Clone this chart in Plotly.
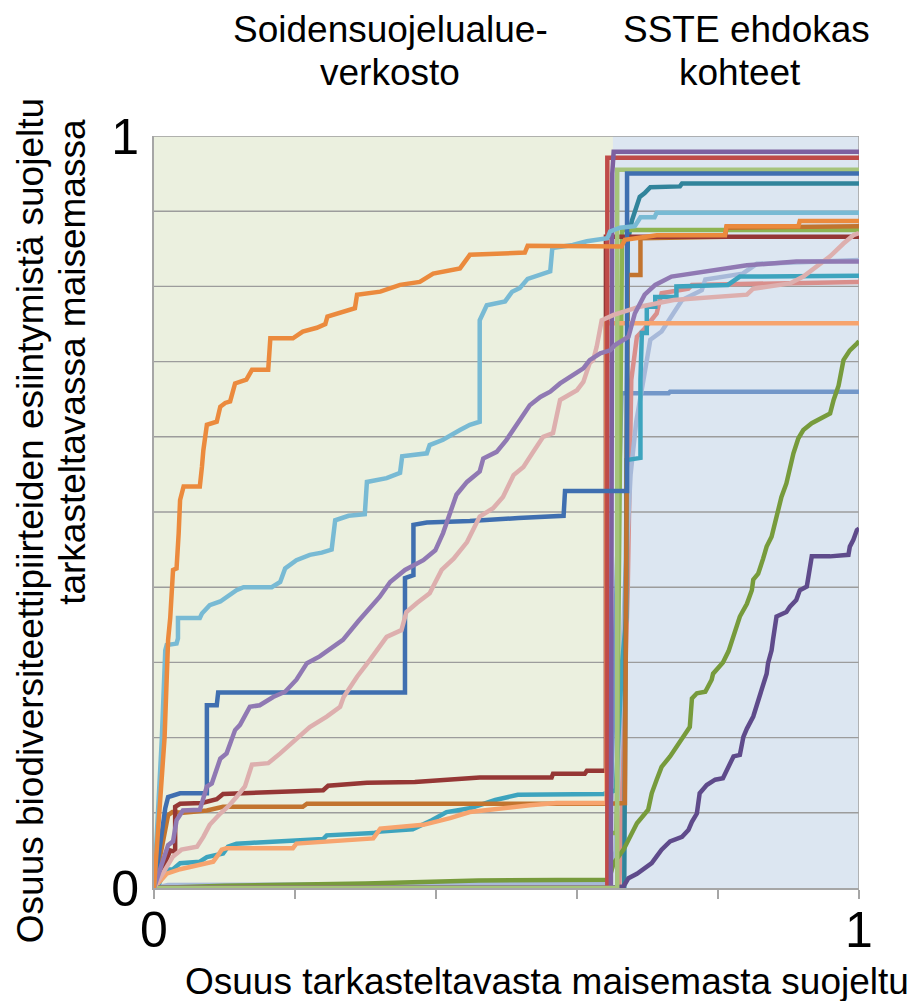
import plotly.graph_objects as go

# Share of landscape protected (x) vs. share of biodiversity feature occurrences protected (y)
orange_x = [0, 0.008, 0.015, 0.02, 0.023, 0.027, 0.032, 0.035, 0.037, 0.042, 0.065, 0.068, 0.07, 0.075, 0.089, 0.094, 0.101, 0.108, 0.112, 0.115, 0.131, 0.139, 0.162, 0.165, 0.197, 0.211, 0.231, 0.243, 0.246, 0.264, 0.285, 0.288, 0.321, 0.349, 0.377, 0.396, 0.434, 0.448, 0.526, 0.53, 0.647, 0.663, 0.668, 0.713, 0.81, 0.812, 0.914, 0.916, 1]
orange_y = [0, 0.1, 0.2, 0.33, 0.359, 0.423, 0.425, 0.472, 0.516, 0.534, 0.534, 0.56, 0.582, 0.616, 0.62, 0.64, 0.645, 0.647, 0.66, 0.671, 0.676, 0.689, 0.689, 0.731, 0.731, 0.74, 0.745, 0.75, 0.76, 0.765, 0.771, 0.789, 0.793, 0.802, 0.806, 0.817, 0.824, 0.842, 0.845, 0.854, 0.854, 0.853, 0.862, 0.868, 0.868, 0.88, 0.88, 0.887, 0.887]

sky_x = [0, 0.011, 0.016, 0.018, 0.032, 0.034, 0.034, 0.065, 0.068, 0.079, 0.094, 0.103, 0.117, 0.127, 0.167, 0.179, 0.186, 0.202, 0.221, 0.238, 0.252, 0.257, 0.276, 0.299, 0.302, 0.33, 0.349, 0.352, 0.387, 0.391, 0.41, 0.434, 0.448, 0.462, 0.462, 0.472, 0.498, 0.508, 0.519, 0.53, 0.548, 0.562, 0.565, 0.594, 0.614, 0.643, 0.647, 0.661, 0.682, 0.69, 0.71, 0.713, 1]
sky_y = [0, 0.197, 0.316, 0.323, 0.325, 0.332, 0.359, 0.359, 0.365, 0.376, 0.381, 0.387, 0.396, 0.4, 0.4, 0.407, 0.425, 0.436, 0.443, 0.446, 0.45, 0.489, 0.495, 0.497, 0.54, 0.545, 0.552, 0.574, 0.578, 0.589, 0.596, 0.609, 0.616, 0.62, 0.755, 0.775, 0.78, 0.793, 0.798, 0.81, 0.816, 0.82, 0.851, 0.855, 0.86, 0.864, 0.873, 0.878, 0.88, 0.892, 0.892, 0.898, 0.898]

dblue_x = [0, 0.016, 0.02, 0.037, 0.075, 0.075, 0.089, 0.091, 0.356, 0.356, 0.368, 0.368, 0.387, 0.448, 0.517, 0.581, 0.583, 0.638, 0.671, 0.671, 1]
dblue_y = [0, 0.106, 0.121, 0.126, 0.126, 0.243, 0.243, 0.26, 0.26, 0.412, 0.416, 0.483, 0.486, 0.488, 0.492, 0.495, 0.528, 0.528, 0.528, 0.95, 0.95]

purple_x = [0, 0.016, 0.02, 0.027, 0.032, 0.041, 0.065, 0.075, 0.082, 0.094, 0.103, 0.115, 0.122, 0.136, 0.15, 0.169, 0.186, 0.202, 0.217, 0.235, 0.259, 0.268, 0.29, 0.305, 0.32, 0.335, 0.356, 0.382, 0.399, 0.41, 0.422, 0.429, 0.444, 0.462, 0.467, 0.486, 0.5, 0.514, 0.533, 0.548, 0.562, 0.576, 0.595, 0.609, 0.618, 0.633, 0.647, 0.654, 0.673, 0.682, 0.696, 0.711, 0.734, 0.779, 0.817, 0.841, 0.911, 1]
purple_y = [0, 0.046, 0.057, 0.062, 0.09, 0.103, 0.104, 0.135, 0.139, 0.172, 0.179, 0.21, 0.217, 0.241, 0.243, 0.254, 0.261, 0.277, 0.299, 0.308, 0.325, 0.33, 0.355, 0.372, 0.387, 0.407, 0.423, 0.436, 0.449, 0.472, 0.507, 0.523, 0.54, 0.554, 0.571, 0.58, 0.596, 0.616, 0.642, 0.653, 0.66, 0.671, 0.682, 0.691, 0.702, 0.711, 0.715, 0.722, 0.733, 0.764, 0.789, 0.802, 0.813, 0.819, 0.824, 0.828, 0.833, 0.833]

pink_x = [0, 0.027, 0.039, 0.061, 0.07, 0.079, 0.094, 0.105, 0.117, 0.129, 0.139, 0.162, 0.179, 0.202, 0.221, 0.245, 0.264, 0.269, 0.288, 0.306, 0.321, 0.33, 0.351, 0.358, 0.373, 0.391, 0.408, 0.425, 0.444, 0.462, 0.481, 0.495, 0.51, 0.524, 0.538, 0.552, 0.566, 0.576, 0.6, 0.609, 0.618, 0.623, 0.628, 0.635, 0.652, 0.689, 0.737, 0.841, 0.85, 0.902, 0.921, 0.94, 0.959, 0.978, 0.992, 1]
pink_y = [0, 0.042, 0.051, 0.055, 0.068, 0.084, 0.099, 0.108, 0.121, 0.135, 0.164, 0.166, 0.179, 0.199, 0.214, 0.228, 0.241, 0.254, 0.281, 0.303, 0.321, 0.334, 0.343, 0.367, 0.379, 0.392, 0.423, 0.438, 0.46, 0.494, 0.505, 0.52, 0.549, 0.56, 0.58, 0.6, 0.605, 0.649, 0.662, 0.673, 0.698, 0.702, 0.72, 0.755, 0.762, 0.773, 0.782, 0.789, 0.797, 0.804, 0.813, 0.826, 0.84, 0.857, 0.868, 0.871]

dred_x = [0, 0.01, 0.023, 0.03, 0.03, 0.037, 0.068, 0.089, 0.098, 0.169, 0.24, 0.247, 0.302, 0.37, 0.462, 0.564, 0.566, 0.611, 0.614, 0.641, 0.641, 1]
dred_y = [0, 0.02, 0.05, 0.048, 0.108, 0.112, 0.113, 0.118, 0.125, 0.127, 0.13, 0.136, 0.14, 0.141, 0.147, 0.147, 0.152, 0.152, 0.156, 0.156, 0.866, 0.866]

brown_x = [0, 0.012, 0.02, 0.026, 0.041, 0.075, 0.098, 0.211, 0.217, 0.645, 0.668, 0.672, 0.69, 0.69, 0.81, 0.812, 1]
brown_y = [0, 0.06, 0.097, 0.101, 0.1, 0.103, 0.108, 0.108, 0.112, 0.112, 0.113, 0.815, 0.815, 0.864, 0.866, 0.878, 0.88]

aqua_x = [0, 0.006, 0.016, 0.027, 0.037, 0.065, 0.075, 0.098, 0.105, 0.117, 0.136, 0.183, 0.24, 0.245, 0.311, 0.321, 0.367, 0.394, 0.415, 0.448, 0.484, 0.516, 0.566, 0.638, 0.655, 0.664, 0.67, 0.67, 0.69, 0.69, 0.692, 0.699, 0.699, 0.711, 0.711, 0.741, 0.741, 0.814, 0.831, 1]
aqua_y = [0, 0.003, 0.024, 0.025, 0.033, 0.035, 0.041, 0.046, 0.055, 0.059, 0.06, 0.062, 0.065, 0.07, 0.073, 0.075, 0.078, 0.09, 0.101, 0.106, 0.117, 0.124, 0.125, 0.125, 0.13, 0.3, 0.36, 0.569, 0.572, 0.676, 0.738, 0.738, 0.773, 0.773, 0.786, 0.786, 0.8, 0.802, 0.813, 0.814]

lorange_x = [0, 0.018, 0.037, 0.07, 0.084, 0.091, 0.096, 0.103, 0.197, 0.202, 0.311, 0.321, 0.335, 0.382, 0.42, 0.448, 0.533, 0.571, 0.638, 0.642, 0.642, 1]
lorange_y = [0, 0.019, 0.025, 0.032, 0.035, 0.044, 0.051, 0.053, 0.053, 0.059, 0.066, 0.079, 0.08, 0.084, 0.093, 0.101, 0.11, 0.113, 0.113, 0.113, 0.751, 0.751]

olive_x = [0, 0.1, 0.3, 0.46, 0.645, 0.652, 0.666, 0.678, 0.685, 0.701, 0.706, 0.713, 0.72, 0.732, 0.741, 0.751, 0.76, 0.763, 0.77, 0.782, 0.791, 0.793, 0.807, 0.815, 0.82, 0.826, 0.831, 0.841, 0.848, 0.85, 0.857, 0.864, 0.869, 0.876, 0.881, 0.883, 0.89, 0.897, 0.902, 0.907, 0.914, 0.921, 0.933, 0.945, 0.959, 0.964, 0.971, 0.978, 0.987, 0.997, 1]
olive_y = [0, 0.003, 0.006, 0.01, 0.011, 0.033, 0.051, 0.073, 0.086, 0.104, 0.126, 0.144, 0.161, 0.175, 0.188, 0.203, 0.214, 0.252, 0.259, 0.261, 0.277, 0.285, 0.3, 0.315, 0.33, 0.347, 0.361, 0.378, 0.396, 0.41, 0.418, 0.438, 0.454, 0.467, 0.485, 0.498, 0.52, 0.538, 0.56, 0.578, 0.598, 0.609, 0.618, 0.624, 0.631, 0.649, 0.668, 0.702, 0.715, 0.724, 0.727]

dpurple_x = [0, 0.647, 0.666, 0.673, 0.685, 0.696, 0.706, 0.713, 0.72, 0.732, 0.749, 0.758, 0.763, 0.77, 0.774, 0.784, 0.796, 0.807, 0.815, 0.822, 0.831, 0.836, 0.841, 0.85, 0.855, 0.862, 0.869, 0.871, 0.876, 0.878, 0.881, 0.883, 0.897, 0.902, 0.911, 0.916, 0.926, 0.93, 0.933, 0.959, 0.985, 0.987, 0.992, 0.997, 1]
dpurple_y = [0, 0, 0.002, 0.013, 0.019, 0.026, 0.033, 0.042, 0.051, 0.062, 0.068, 0.077, 0.088, 0.099, 0.126, 0.137, 0.144, 0.146, 0.161, 0.175, 0.177, 0.201, 0.212, 0.228, 0.243, 0.266, 0.285, 0.299, 0.316, 0.33, 0.347, 0.361, 0.367, 0.374, 0.383, 0.396, 0.401, 0.421, 0.441, 0.441, 0.443, 0.454, 0.463, 0.476, 0.478]

lgreen_x = [0, 0.657, 0.657, 1]
lgreen_y = [0, 0, 0.955, 0.955]

lavender_x = [0, 0.02, 0.645, 0.655, 0.668, 0.676, 0.684, 0.696, 0.704, 0.72, 0.739, 0.749, 0.777, 0.782, 0.835, 0.855, 1]
lavender_y = [0, 0.004, 0.006, 0.05, 0.4, 0.55, 0.62, 0.689, 0.729, 0.74, 0.769, 0.782, 0.795, 0.809, 0.817, 0.83, 0.835]

red_x = [0, 0.643, 0.643, 1]
red_y = [0, 0, 0.971, 0.971]

tpurple_x = [0, 0.648, 0.65, 0.652, 1]
tpurple_y = [0, 0, 0.95, 0.979, 0.979]

dteal_x = [0, 0.667, 0.672, 0.678, 0.689, 0.696, 0.704, 0.746, 0.749, 1]
dteal_y = [0, 0, 0.86, 0.888, 0.919, 0.924, 0.932, 0.933, 0.937, 0.937]

green_x = [0, 0.648, 0.648, 0.656, 0.664, 1]
green_y = [0, 0, 0.073, 0.073, 0.875, 0.875]

salmon_x = [0, 0.66, 0.672, 0.677, 0.685, 0.696, 0.713, 0.72, 0.758, 0.763, 1]
salmon_y = [0, 0, 0.4, 0.676, 0.733, 0.744, 0.764, 0.791, 0.797, 0.802, 0.806]

steel_x = [0, 0.645, 0.663, 0.73, 0.732, 1]
steel_y = [0, 0, 0.658, 0.658, 0.66, 0.66]

# drawing order: bottom to top
series = [
    (steel_x, steel_y, "#7397C9"),
    (salmon_x, salmon_y, "#D98F8C"),
    (lavender_x, lavender_y, "#A7B9D9"),
    (aqua_x, aqua_y, "#3DA4BE"),
    (dteal_x, dteal_y, "#31849B"),
    (green_x, green_y, "#8DB452"),
    (brown_x, brown_y, "#C2742F"),
    (dred_x, dred_y, "#953735"),
    (lorange_x, lorange_y, "#F7A46E"),
    (olive_x, olive_y, "#779B3C"),
    (dpurple_x, dpurple_y, "#5F4B8B"),
    (red_x, red_y, "#BF4B48"),
    (tpurple_x, tpurple_y, "#7D60A0"),
    (lgreen_x, lgreen_y, "#A6C47B"),
    (dblue_x, dblue_y, "#3F6FB0"),
    (pink_x, pink_y, "#DDAFAE"),
    (purple_x, purple_y, "#9079B3"),
    (sky_x, sky_y, "#78BAD4"),
    (orange_x, orange_y, "#EB8A3D"),
]

# region split between the two backgrounds
split_x = 0.651
grid_levels = [round(0.1 * i, 1) for i in range(1, 11)]

fig = go.Figure()
for xs, ys, col in series:
    fig.add_trace(go.Scatter(x=xs, y=ys, mode="lines",
                             line=dict(color=col, width=4.5),
                             hoverinfo="skip", showlegend=False))

shapes = [
    dict(type="rect", xref="x", yref="y", x0=0, x1=split_x, y0=0, y1=1,
         fillcolor="#EBF0DF", line_width=0, layer="below"),
    dict(type="rect", xref="x", yref="y", x0=split_x, x1=1, y0=0, y1=1,
         fillcolor="#DCE6F1", line_width=0, layer="below"),
]
for g in grid_levels:
    shapes.append(dict(type="line", xref="x", yref="y", x0=0, x1=1, y0=g, y1=g,
                       line=dict(color="#9C9C9C", width=1.4), layer="below"))
shapes.append(dict(type="line", xref="x", yref="y", x0=1, x1=1, y0=0, y1=1,
                   line=dict(color="#A6A6A6", width=1.6), layer="below"))

font_family = "Arial, Liberation Sans, sans-serif"
title_font = dict(size=37, color="black", family=font_family)


def label(text, x, y, angle=0, anchor="center"):
    return dict(text=text, x=x, y=y, xref="paper", yref="paper", showarrow=False,
                textangle=angle, xanchor=anchor, yanchor="middle", font=title_font)


annotations = [
    label("Soidensuojelualue-", 0.335, 1.141),
    label("verkosto", 0.335, 1.085),
    label("SSTE ehdokas", 0.84, 1.141),
    label("kohteet", 0.831, 1.085),
    label("Osuus biodiversiteettipiirteiden esiintymistä suojeltu", -0.176, 0.489, angle=-90),
    label("tarkasteltavassa maisemassa", -0.116, 0.70, angle=-90),
    label("Osuus tarkasteltavasta maisemasta suojeltu", 0.041, -0.124, anchor="left"),
]

fig.update_layout(
    width=913, height=1001,
    margin=dict(l=154, r=54, t=136, b=113),
    paper_bgcolor="white", plot_bgcolor="white",
    shapes=shapes, annotations=annotations,
    font=dict(family=font_family, color="black"),
    xaxis=dict(range=[0, 1], showgrid=False, zeroline=False, showline=True,
               linecolor="#A6A6A6", linewidth=2, ticks="outside", ticklen=9,
               tickcolor="#A6A6A6", tickwidth=1.5,
               tickvals=[0, 0.2, 0.4, 0.6, 0.8, 1],
               ticktext=["0", "", "", "", "", "1"],
               ticklabelstandoff=-12,
               tickfont=dict(size=50, family=font_family, color="black")),
    yaxis=dict(range=[0, 1], showgrid=False, zeroline=False, showline=True,
               linecolor="#A6A6A6", linewidth=2, ticks="",
               tickvals=[0] + grid_levels,
               ticktext=["0"] + [""] * 9 + ["1"],
               ticklabelstandoff=3,
               tickfont=dict(size=50, family=font_family, color="black")),
)

fig.write_html("out.html")
